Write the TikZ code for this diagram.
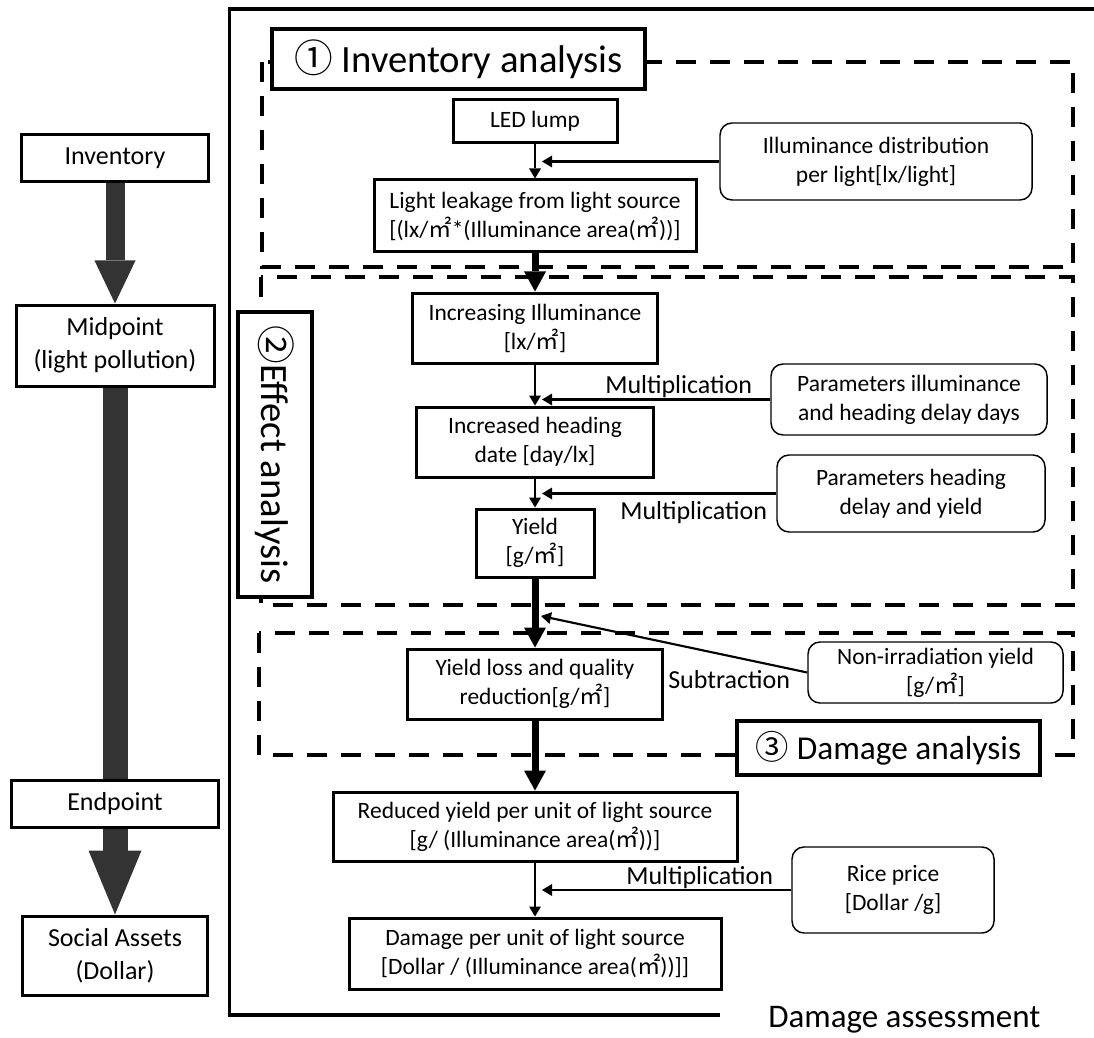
\documentclass[tikz,border=0pt]{standalone}
\usepackage{fontspec}
\setmainfont{Carlito}
\newfontfamily\cjkf{Noto Sans CJK JP}
\usetikzlibrary{arrows.meta}
\newcommand\msq{{\cjkf ㎡}}
\definecolor{dk}{RGB}{51,51,51}
\begin{document}
\begin{tikzpicture}[x=0.75pt,y=-0.75pt,
  every node/.style={inner sep=0pt, align=center},
  sz/.style 2 args={minimum width=#1, minimum height=#2},
  lbox/.style={draw, line width=2.25pt, fill=white, font=\fontsize{19.5pt}{24.5pt}\selectfont},
  mbox/.style={draw, line width=2.25pt, fill=white, font=\fontsize{17.6pt}{21.75pt}\selectfont},
  rbox/.style={draw, line width=1.1pt, rounded corners=9pt, fill=white, font=\fontsize{17.6pt}{21.75pt}\selectfont},
  tbox/.style={draw, line width=2.6pt, fill=white},
  lbl/.style={font=\fontsize{19.5pt}{24pt}\selectfont},
  dbox/.style={draw, line width=3pt, dash pattern=on 15pt off 10.5pt},
  thinarr/.style={line width=1.9pt, -{Triangle[width=9pt,length=7.5pt,line width=0pt]}},
  thickarr/.style={line width=5.25pt, -{Triangle[width=16.5pt,length=15pt,line width=0pt]}},
  bigarr/.style={dk, line width=#1}
]
\useasboundingbox (0,0) rectangle (1094,1037);

% ---------- left column ----------
\node[lbox, sz={140.25pt}{35.25pt}] (inv) at (115,158.5) {Inventory};
\node[lbox, sz={148.5pt}{60.75pt}] (mid) at (115,345.5) {Midpoint\\(light pollution)};
\node[lbox, sz={155.25pt}{35.25pt}] (endp) at (115,803.5) {Endpoint};
\node[lbox, sz={138.75pt}{59.25pt}] (soc) at (115,955.5) {Social Assets\\(Dollar)};
\draw[bigarr=14.25pt, -{Triangle[width=30.75pt,length=32.25pt,line width=0pt]}] (inv.south) -- (mid.north);
\draw[bigarr=18.75pt] (mid.south) -- (endp.north);
\draw[bigarr=18.75pt, -{Triangle[width=39.75pt,length=48pt,line width=0pt]}] (endp.south) -- (soc.north);

% ---------- frame ----------
\draw[line width=2.6pt] (1094,9) -- (229.5,9) -- (229.5,1015) -- (720,1015);
\node[anchor=base west, font=\fontsize{24.75pt}{28pt}\selectfont] (da) at (768,1027) {Damage assessment};

% ---------- dashed regions ----------
\draw[dbox] (262,62) rectangle (1073,267);
\draw[dbox] (261,277) rectangle (1073,605);
\draw[dbox] (259,633) rectangle (1073,755);

% ---------- titles ----------
\node[tbox, sz={279.75pt}{45pt}, font=\fontsize{29pt}{32pt}\selectfont] (t1) at (458.5,59) {{\cjkf ①} Inventory analysis};
\node[tbox, rotate=-90, sz={213.75pt}{55.5pt}, font=\fontsize{29pt}{32pt}\selectfont] (t2) at (275,454.5) {{\cjkf ②}Effect analysis};
\node[tbox, sz={227.25pt}{40.5pt}, font=\fontsize{25pt}{28pt}\selectfont] (t3) at (888.5,748) {{\cjkf ③} Damage analysis};

% ---------- main column ----------
\node[mbox, sz={123pt}{32.25pt}] (led) at (535,121.5) {LED lump};
\node[mbox, sz={241.5pt}{54pt}] (leak) at (535,216) {Light leakage from light source\\{}[(lx/\msq*(Illuminance area(\msq))]};
\node[mbox, sz={183.75pt}{52.5pt}] (incr) at (535,328) {Increasing Illuminance\\{}[lx/\msq]};
\node[mbox, sz={177.75pt}{52.5pt}] (head) at (535,442) {Increased heading\\date [day/lx]};
\node[mbox, sz={88.5pt}{51pt}] (yield) at (535,543) {Yield\\{}[g/\msq]};
\node[mbox, sz={191.25pt}{52.5pt}] (loss) at (535,684) {Yield loss and quality\\reduction[g/\msq]};
\node[mbox, sz={303pt}{51.75pt}] (red) at (535,826.5) {Reduced yield per unit of light source\\{}[g/ (Illuminance area(\msq))]};
\node[mbox, sz={279pt}{53.25pt}] (dmg) at (535,953.5) {Damage per unit of light source\\{}[Dollar / (Illuminance area(\msq))]]};

% ---------- side inputs ----------
\node[rbox, sz={234pt}{57.75pt}] (illum) at (876,161.5) {Illuminance distribution\\per light[lx/light]};
\node[rbox, sz={207pt}{53.25pt}] (pill) at (909,399.5) {Parameters illuminance\\and heading delay days};
\node[rbox, sz={201pt}{57.75pt}] (phead) at (911,493.5) {Parameters heading\\delay and yield};
\node[rbox, sz={191.25pt}{45.75pt}] (nonirr) at (935.5,672.5) {Non-irradiation yield\\{}[g/\msq]};
\node[rbox, sz={151.5pt}{64.5pt}] (rice) at (893,890) {Rice price\\{}[Dollar /g]};

% ---------- labels ----------
\node[lbl, anchor=base west] (m1) at (605,393) {Multiplication};
\node[lbl, anchor=base west] (m2) at (620,519) {Multiplication};
\node[lbl, anchor=base west] (sub) at (668,688) {Subtraction};
\node[lbl, anchor=base west] (m3) at (626,884) {Multiplication};

% ---------- connectors ----------
\coordinate (vx) at (542,0);
\coordinate (s1) at (541,616);
\draw[thinarr] (led.south) -- (leak.north);
\draw[thinarr] (illum.west) -- (illum.west -| vx);
\draw[thickarr] (leak.south) -- (incr.north);
\draw[thinarr] (incr.south) -- (head.north);
\draw[thinarr] (pill.west) -- (pill.west -| vx);
\draw[thinarr] (head.south) -- (yield.north);
\draw[thinarr] (phead.west) -- (phead.west -| vx);
\draw[thickarr] (yield.south) -- (loss.north);
\draw[thinarr, line width=1.6pt] (nonirr.west) -- (s1);
\draw[thickarr] (loss.south) -- (red.north);
\draw[thinarr] (red.south) -- (dmg.north);
\draw[thinarr] (rice.west) -- (rice.west -| vx);
\end{tikzpicture}
\end{document}
